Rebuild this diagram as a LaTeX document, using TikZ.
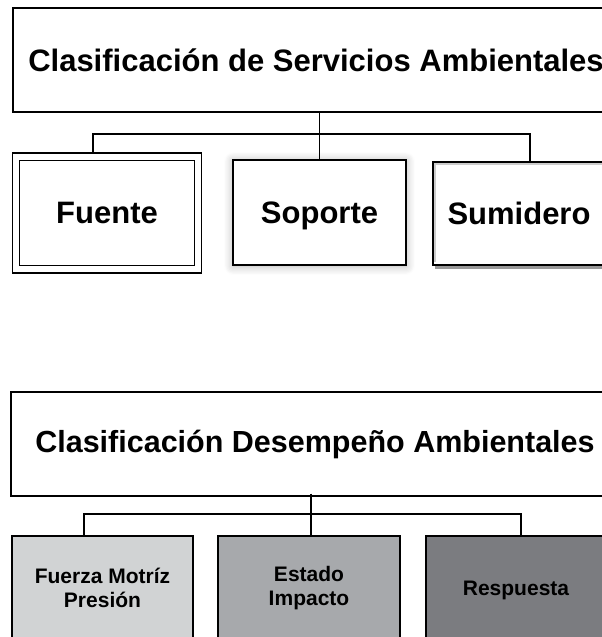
\documentclass[tikz,border=0pt]{standalone}
\usepackage{fontspec}
\setmainfont{Liberation Sans}
\usetikzlibrary{shadows,shadows.blur}
\definecolor{fuerzagris}{HTML}{D1D3D4}
\definecolor{estadogris}{HTML}{A7A9AC}
\definecolor{respgris}{HTML}{7B7C80}
\begin{document}
\begin{tikzpicture}[x=1pt,y=-1pt,
    titlebox/.style={draw,line width=1.4pt,inner sep=0pt,minimum width=606pt,minimum height=104pt,
      font=\fontsize{31}{37}\selectfont\bfseries},
    topbox/.style={draw,line width=1.4pt,inner sep=0pt,fill=white,text depth=0pt,
      font=\fontsize{31}{37}\selectfont\bfseries},
    lowbox/.style={draw,line width=1.4pt,inner sep=0pt,minimum width=181pt,minimum height=104pt,
      align=center,font=\fontsize{21}{24}\selectfont\bfseries},
    link/.style={line width=1.3pt}]
\useasboundingbox (0,0) rectangle (602,637);
\clip (0,0) rectangle (602,637);
% servicios ambientales
\node[titlebox] (serv) at (316,60) {Clasificación de Servicios Ambientales};
\node[topbox,line width=1.2pt,minimum width=182pt,minimum height=112.5pt,double,double distance=6.2pt] (fuente) at (107,213) {Fuente};
\node[topbox,minimum width=173pt,minimum height=105pt,
  blur shadow={shadow xshift=0pt,shadow yshift=-1pt,shadow blur radius=9pt,shadow blur steps=8,shadow opacity=30}] (soporte) at (319.5,212.5) {Soporte};
\node[topbox,minimum width=172pt,minimum height=103pt,
  drop shadow={shadow xshift=2pt,shadow yshift=-4pt,fill=black!40,opacity=1}] (sumidero) at (519,213.5) {Sumidero};
\draw[gray!40,line width=2pt] ([shift={(2.8pt,4pt)}]sumidero.south west) |- ([shift={(-1pt,-2.8pt)}]sumidero.north east);
\coordinate (sbar) at (319,134);
\draw[link] (serv.south -| soporte.north) -- (soporte.north);
\draw[link] ([xshift=-14pt,yshift=4pt]fuente.north) |- (sbar) -| ([xshift=11pt]sumidero.north);
% desempeno ambiental
\node[titlebox,minimum width=608pt,font=\fontsize{30.5}{37}\selectfont\bfseries] (desem) at (315,444) {Clasificación Desempeño Ambientales};
\node[lowbox,fill=fuerzagris] (fuerza) at (102.5,588) {Fuerza Motríz\\Presión};
\node[lowbox,fill=estadogris,minimum width=182pt] (estado) at (309,588) {Estado\\Impacto};
\node[lowbox,fill=respgris,minimum width=180pt,text depth=0pt] (respuesta) at (516,588) {Respuesta};
\coordinate (dbar) at (311,514);
\coordinate (dtop) at ([yshift=3pt]desem.south);
\draw[link] (dtop -| dbar) -- (estado.north -| dbar);
\draw[link] ([xshift=-18.5pt]fuerza.north) |- (dbar) -| ([xshift=5pt]respuesta.north);
\end{tikzpicture}
\end{document}
